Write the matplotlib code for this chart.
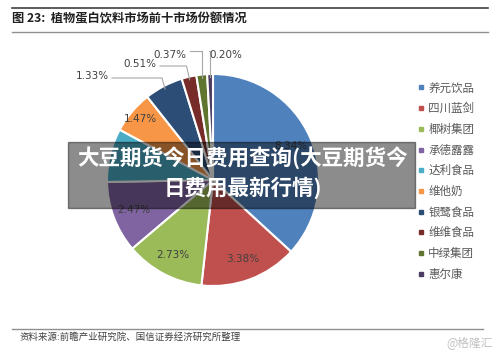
import matplotlib
matplotlib.use("Agg")
import matplotlib.pyplot as plt
from matplotlib.lines import Line2D
import numpy as np

plt.rcParams['font.family'] = ['Noto Sans CJK SC', 'DejaVu Sans']

# 品牌与份额 (达利食品 的标签被遮挡, 数值为估计)
brands = ["养元饮品", "四川蓝剑", "椰树集团", "承德露露", "达利食品",
          "维他奶", "银鹭食品", "维维食品", "中绿集团", "惠尔康"]
shares = [8.34, 3.38, 2.73, 2.47, 1.85, 1.47, 1.33, 0.51, 0.37, 0.20]
labels = ["8.34%", "3.38%", "2.73%", "2.47%", "", "1.47%", "1.33%", "0.51%", "0.37%", "0.20%"]
colors = ["#4F81BD", "#C0504D", "#9BBB59", "#8064A2", "#4BACC6",
          "#F79646", "#2C4D75", "#772C2A", "#5F7530", "#4D3B62"]

W, H = 500, 351
fig = plt.figure(figsize=(5, 3.51), dpi=100)

cx, cy, r = 213, 180, 106
ax = fig.add_axes([(cx - r) / W, (H - cy - r) / H, 2 * r / W, 2 * r / H])
wedges, _ = ax.pie(shares, colors=colors, startangle=90, counterclock=False,
                   wedgeprops=dict(edgecolor="white", linewidth=1.5))
ax.set_xlim(-1, 1)
ax.set_ylim(-1, 1)
ax.axis("off")

def px(x, y):
    return ((x - cx) / r, (cy - y) / r)

# 内部标签
for i in [0, 1, 2, 3, 5]:
    w = wedges[i]
    ang = np.deg2rad((w.theta1 + w.theta2) / 2)
    rr = 0.9 if i == 5 else 0.8
    ax.text(rr * np.cos(ang), rr * np.sin(ang), labels[i], ha="center", va="center",
            fontsize=7.5, color="#404040", family=["DejaVu Sans"])

# 外部标签 + 引线
outside = {6: (92, 76), 7: (140, 64), 8: (170, 55), 9: (226, 55)}
for i, (tx, ty) in outside.items():
    w = wedges[i]
    ang = np.deg2rad((w.theta1 + w.theta2) / 2)
    ex, ey = 0.97 * np.cos(ang), 0.97 * np.sin(ang)
    ax.text(*px(tx, ty), labels[i], ha="center", va="center", fontsize=7.5,
            color="#404040", family=["DejaVu Sans"], clip_on=False)
    if i == 9:
        sx, sy = px(tx - 17, ty - 4)
    elif i == 8:
        sx, sy = px(tx + 20, ty - 4)
    else:
        sx, sy = px(tx + 20, ty + 2)
    ax.plot([sx, ex if i in (8, 9) else ex - 0.03, ex], [sy, sy, ey], color="#a6a6a6",
            linewidth=0.8, clip_on=False)

# 图例
handles = [Line2D([], [], marker="s", linestyle="", markersize=2.5, color=c) for c in colors]
fig.legend(handles, brands, loc="upper left", bbox_to_anchor=(407 / W, 1 - 71 / H),
           frameon=False, fontsize=8.3, labelspacing=0.67, handlelength=0.6,
           handletextpad=0.35, labelcolor="#595959")

# 标题与线条
fig.add_artist(Line2D([12 / W, 488 / W], [1 - 8 / H, 1 - 8 / H], color="#404040", linewidth=1.2))
fig.add_artist(Line2D([12 / W, 488 / W], [1 - 32 / H, 1 - 32 / H], color="#909090", linewidth=1.0))
fig.text(12 / W, 1 - 19 / H, "图 23:  植物蛋白饮料市场前十市场份额情况", fontsize=8.8,
         fontweight="bold", color="#202020", va="center")
fig.add_artist(Line2D([12 / W, 483 / W], [1 - 329 / H, 1 - 329 / H], color="#909090", linewidth=1.0))
fig.text(20 / W, 1 - 337 / H, "资料来源:前瞻产业研究院、国信证券经济研究所整理", fontsize=6.8,
         color="#404040", va="center")
fig.text(493 / W, 1 - 343 / H, "@格隆汇", fontsize=8.5, color="#c0c0c0", ha="right", va="center")

# 水印遮罩
fig.patches.append(plt.Rectangle((68 / W, 1 - 208 / H), (415 - 68) / W, (208 - 142) / H,
                                 transform=fig.transFigure, color="black", alpha=0.45, zorder=5))
fig.text(243 / W, 1 - 158 / H, "大豆期货今日费用查询(大豆期货今", fontsize=15.5, fontweight="bold",
         color="white", ha="center", va="center", zorder=6)
fig.text(243 / W, 1 - 188 / H, "日费用最新行情)", fontsize=15.5, fontweight="bold",
         color="white", ha="center", va="center", zorder=6)

fig.savefig("out.png", dpi=100)
